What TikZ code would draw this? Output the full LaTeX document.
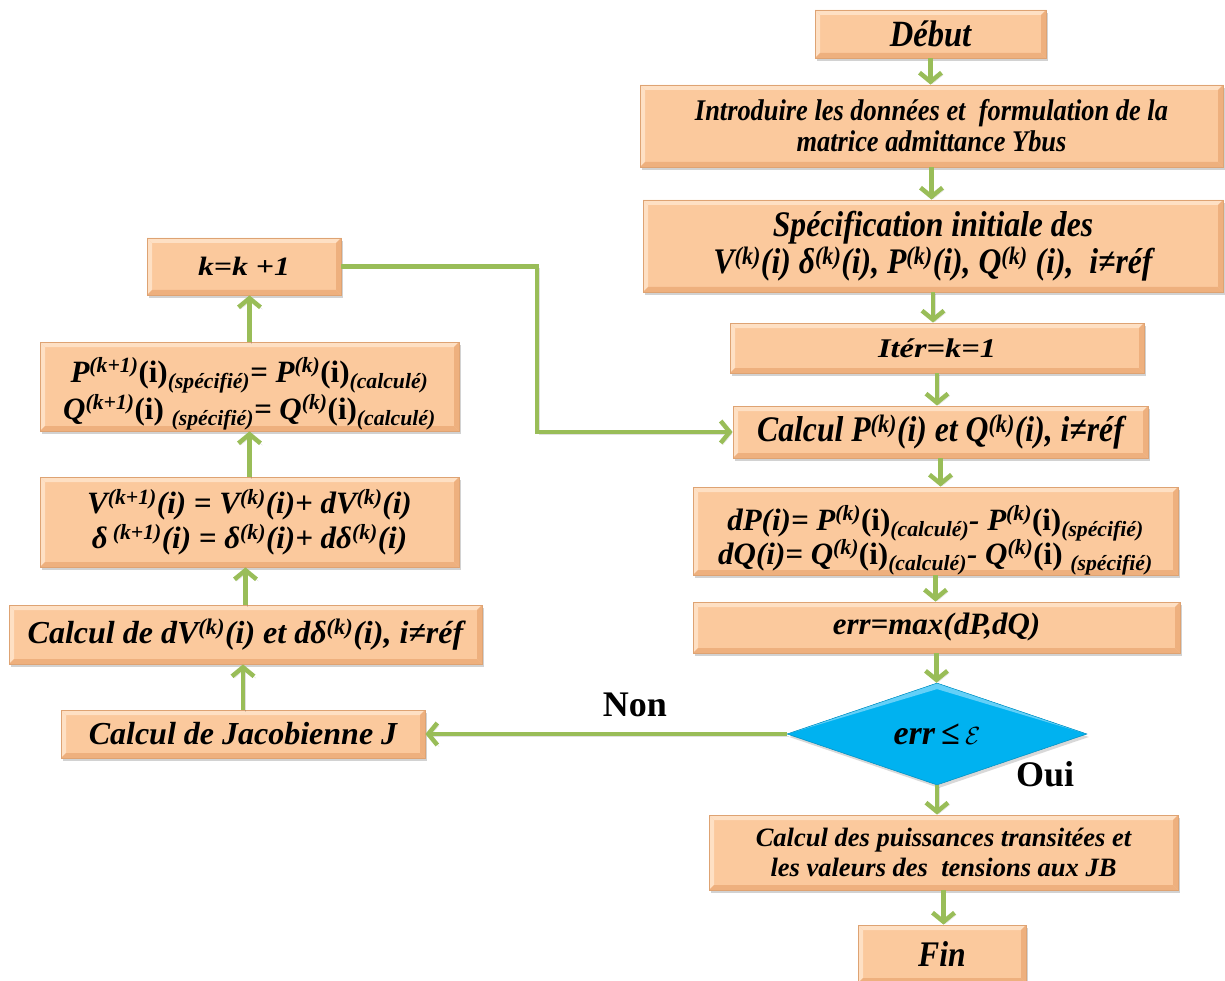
\documentclass[tikz,border=0pt]{standalone}
\usepackage{fontspec}
\setmainfont{Liberation Serif}
\newfontfamily\fN{Liberation Serif}[FakeStretch=0.88]
\newfontfamily\fW{Liberation Serif}[FakeStretch=1.0]
\newfontfamily\fX{Liberation Serif}[FakeStretch=1.2]
\newfontfamily\lblfont{Liberation Serif}
\usetikzlibrary{arrows.meta,shapes.geometric,shadows,calc}
\definecolor{boxfill}{RGB}{251,201,157}
\definecolor{boxedge}{RGB}{222,163,115}
\definecolor{bevlight}{RGB}{254,224,196}
\definecolor{bevdark}{RGB}{238,176,126}
\definecolor{arrgreen}{RGB}{153,189,88}
\definecolor{diafill}{RGB}{0,178,240}
\definecolor{dialight}{RGB}{100,208,248}
\newcommand\fsz[3]{#1\fontsize{#2}{#3}\selectfont\bfseries\itshape}
\tikzset{
  stepbox/.style={rectangle, fill=boxfill, draw=boxedge, line width=0.8pt, inner sep=2pt, align=center,
    drop shadow={opacity=0.35, shadow xshift=2pt, shadow yshift=-3pt},
    path picture={
      \fill[bevlight] (path picture bounding box.north west) -- (path picture bounding box.north east)
        -- ([xshift=-5pt,yshift=-5pt]path picture bounding box.north east) -- ([xshift=5pt,yshift=-5pt]path picture bounding box.north west) -- cycle;
      \fill[bevlight] (path picture bounding box.north west) -- (path picture bounding box.south west)
        -- ([xshift=5pt,yshift=5pt]path picture bounding box.south west) -- ([xshift=5pt,yshift=-5pt]path picture bounding box.north west) -- cycle;
      \fill[bevdark] (path picture bounding box.south west) -- (path picture bounding box.south east)
        -- ([xshift=-5pt,yshift=5pt]path picture bounding box.south east) -- ([xshift=5pt,yshift=5pt]path picture bounding box.south west) -- cycle;
      \fill[bevdark] (path picture bounding box.north east) -- (path picture bounding box.south east)
        -- ([xshift=-5pt,yshift=5pt]path picture bounding box.south east) -- ([xshift=-5pt,yshift=-5pt]path picture bounding box.north east) -- cycle;
    }},
  decision/.style={diamond, fill=diafill, draw=diafill!80!black, line width=0.5pt, inner sep=0pt, aspect=2.94,
    drop shadow={opacity=0.3, shadow xshift=2pt, shadow yshift=-3pt},
    path picture={\fill[dialight] (path picture bounding box.north) -- (path picture bounding box.east) -- ([yshift=-6pt]path picture bounding box.north) -- (path picture bounding box.west) -- cycle;}},
  arr/.style={draw=arrgreen, line width=4.5pt, -{Straight Barb[length=9pt,width=22pt,line width=4.5pt]},
    preaction={draw=black, draw opacity=0.12, transform canvas={shift={(2pt,-2pt)}}}},
  linetext/.style={anchor=base, inner sep=0pt},
  lbl/.style={font=\lblfont\fontsize{36}{40}\selectfont\bfseries}
}
\begin{document}
\begin{tikzpicture}[x=1pt,y=-1pt]
\useasboundingbox[fill=white] (0,0) rectangle (1225,981);

% right column
\node[stepbox, minimum width=231pt, minimum height=48pt, font=\fsz{\fN}{37}{40}] (debut) at (930.5,34) {Début};
\node[stepbox, minimum width=583pt, minimum height=82pt, font=\fsz{\fN}{30}{31}] (intro) at (931.5,126)
  {Introduire les données et\ \ formulation de la\\ matrice admittance Ybus};
\node[stepbox, minimum width=580pt, minimum height=92pt, font=\fsz{\fN}{36}{37}] (spec) at (933,246)
  {Spécification initiale des\\ V\textsuperscript{(k)}(i) δ\textsuperscript{(k)}(i), P\textsuperscript{(k)}(i), Q\textsuperscript{(k)} (i),\ \ i≠réf};
\node[stepbox, minimum width=414pt, minimum height=50pt, font=\fsz{\fX}{27}{30}] (iter) at (937,348) {Itér=k=1};
\node[stepbox, minimum width=415pt, minimum height=52pt, font=\fsz{\fN}{36}{38}] (calcP) at (940.5,432)
  {Calcul P\textsuperscript{(k)}(i) et Q\textsuperscript{(k)}(i), i≠réf};
\node[stepbox, minimum width=485pt, minimum height=88pt] (dP) at (935.5,531) {};
\begin{scope}
  \clip (dP.south west) rectangle (dP.north east);
  \node[linetext, font=\fsz{\fW}{31}{32}] (dPa) at (935.5,530)
    {dP(i)= P\textsuperscript{(k)}\textup{(i)}\textsubscript{(calculé)}- P\textsuperscript{(k)}\textup{(i)}\textsubscript{(spécifié)}};
  \node[linetext, font=\fsz{\fW}{31}{32}] (dPb) at (935.5,564)
    {dQ(i)= Q\textsuperscript{(k)}\textup{(i)}\textsubscript{(calculé)}- Q\textsuperscript{(k)}\textup{(i)} \textsubscript{(spécifié)}};
\end{scope}
\node[stepbox, minimum width=487pt, minimum height=51pt, font=\fsz{\fW}{31}{34}] (errmax) at (936.5,627.5) {err=max(dP,dQ)};
\node[decision, minimum width=300pt, minimum height=102pt, font=\fsz{\fW}{34}{36}] (dia) at (937,734) {err\,≤\,$\mathcal{E}$};
\node[stepbox, minimum width=469pt, minimum height=75pt, font=\fsz{\fW}{26.5}{30}] (puiss) at (943.5,852.5)
  {Calcul des puissances transitées et\\ les valeurs des\ \ tensions aux JB};
\node[stepbox, minimum width=168pt, minimum height=58pt, font=\fsz{\fN}{36}{38}] (fin) at (942,954) {Fin};

% left column
\node[stepbox, minimum width=194pt, minimum height=57pt, font=\fsz{\fX}{26.5}{30}] (kk) at (244,266.5) {k=k +1};
\node[stepbox, minimum width=419pt, minimum height=89pt] (Pk) at (249.5,386.5) {};
\begin{scope}
  \clip (Pk.south west) rectangle (Pk.north east);
  \node[linetext, font=\fsz{\fW}{31}{32}] (Pka) at (249.5,382)
    {P\textsuperscript{(k+1)}\textup{(i)}\textsubscript{(spécifié)}= P\textsuperscript{(k)}\textup{(i)}\textsubscript{(calculé)}};
  \node[linetext, font=\fsz{\fW}{31}{32}] (Pkb) at (249.5,419)
    {Q\textsuperscript{(k+1)}\textup{(i)} \textsubscript{(spécifié)}= Q\textsuperscript{(k)}\textup{(i)}\textsubscript{(calculé)}};
\end{scope}
\node[stepbox, minimum width=419pt, minimum height=90pt, font=\fsz{\fW}{31}{35}] (Vk) at (249.5,522)
  {V\textsuperscript{(k+1)}(i) = V\textsuperscript{(k)}(i)+ dV\textsuperscript{(k)}(i)\\
   δ\,\textsuperscript{(k+1)}(i) = δ\textsuperscript{(k)}(i)+ dδ\textsuperscript{(k)}(i)};
\node[stepbox, minimum width=473pt, minimum height=59pt, font=\fsz{\fW}{32}{34}] (dV) at (245.5,634.5)
  {Calcul de dV\textsuperscript{(k)}(i) et dδ\textsuperscript{(k)}(i), i≠réf};
\node[stepbox, minimum width=364pt, minimum height=48pt, font=\fsz{\fW}{32}{34}] (jac) at (243,734) {Calcul de Jacobienne J};

% labels
\node[lbl] (non) at (635,705) {Non};
\node[lbl] (oui) at (1045,774) {Oui};

% connectors right column
\draw[arr] (debut.south) -- (debut.south |- intro.north);
\draw[arr] (intro.south) -- (intro.south |- spec.north);
\draw[arr] (spec.south) -- (spec.south |- iter.north);
\draw[arr] (iter.south) -- (iter.south |- calcP.north);
\draw[arr] (calcP.south) -- (calcP.south |- dP.north);
\draw[arr] (dP.south) -- (dP.south |- errmax.north);
\draw[arr] (errmax.south) -- (errmax.south |- dia.north);
\draw[arr] (dia.south) -- (dia.south |- puiss.north);
\draw[arr] (puiss.south) -- (puiss.south |- fin.north);

% connectors left column
\draw[arr] (jac.north) -- (jac.north |- dV.south);
\draw[arr] (dV.north) -- (dV.north |- Vk.south);
\draw[arr] (Vk.north) -- (Vk.north |- Pk.south);
\draw[arr] (Pk.north) -- (Pk.north |- kk.south);

% loop and decision
\coordinate (loopx) at (537,266.5);
\draw[arr] (kk.east) -- (loopx) |- (calcP.west);
\draw[arr] (dia.west) -- (jac.east);
\end{tikzpicture}
\end{document}
